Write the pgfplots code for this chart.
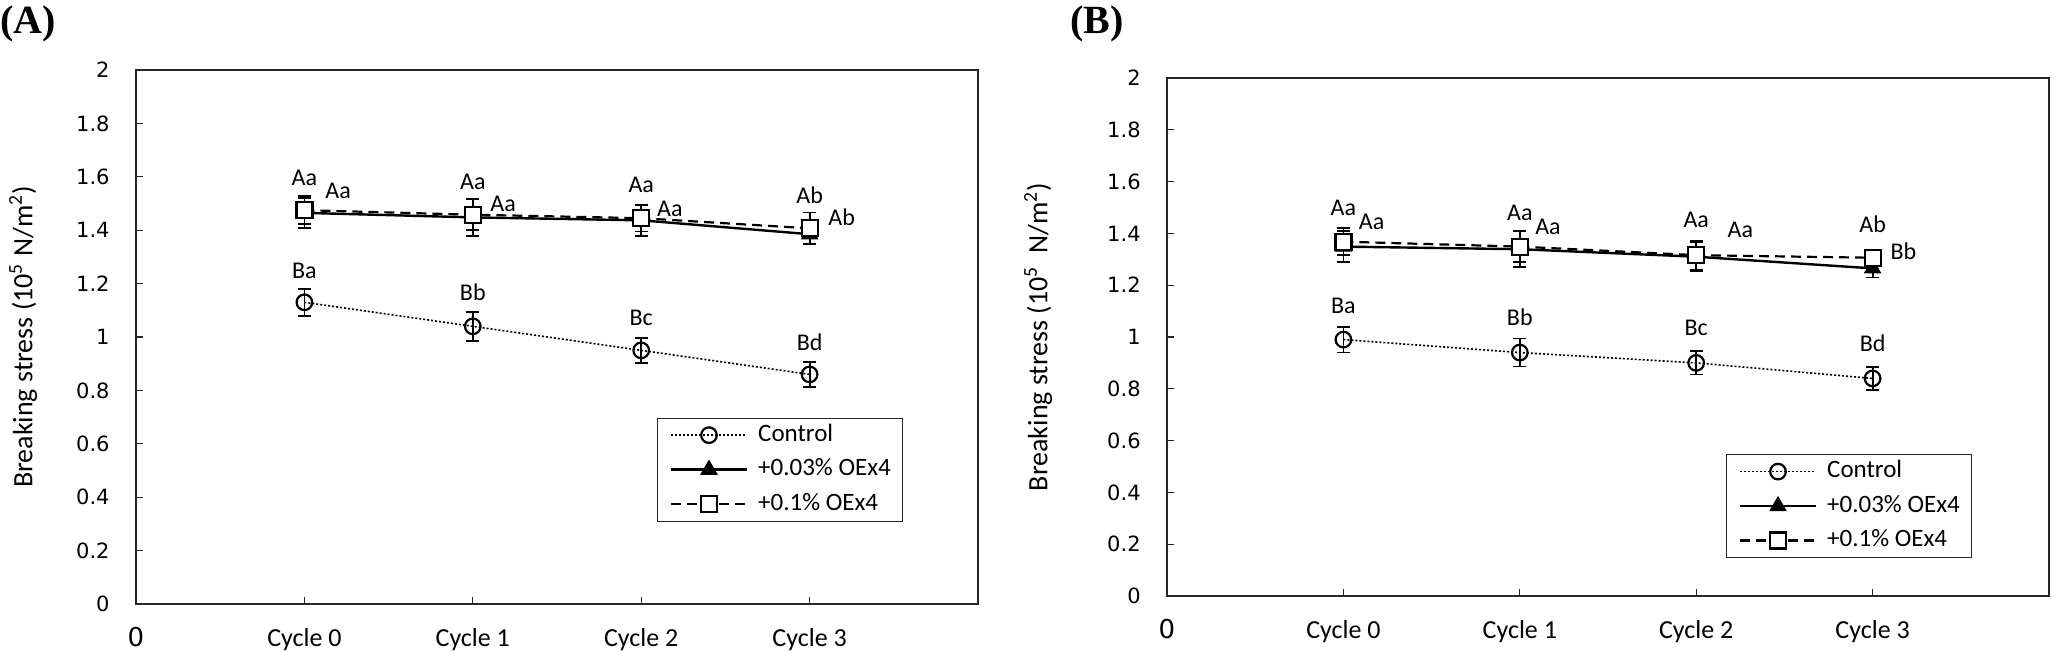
\documentclass[border=0pt]{standalone}
\usepackage{fontspec}
\setmainfont{Carlito}
\newfontfamily\dej{DejaVu Sans}
\newfontfamily\tms{Liberation Serif}
\usepackage{pgfplots}
\pgfplotsset{compat=1.18}

\tikzset{lab/.style={font=\fontsize{12}{14}\selectfont, inner sep=0pt, anchor=center, black}}

\pgfplotsset{
  breakstyle/.style={
    scale only axis,
    anchor=south west,
    xmin=0, xmax=5, ymin=0, ymax=2,
    xtick={0,1,2,3,4},
    xticklabels={{\dej 0},Cycle 0,Cycle 1,Cycle 2,Cycle 3},
    ytick={0,0.2,0.4,0.6,0.8,1,1.2,1.4,1.6,1.8,2},
    tick pos=left,
    tick align=inside,
    major tick length=3.5pt,
    axis line style={black!85, line width=0.6pt},
    every tick/.style={black!85, line width=0.6pt},
    /pgf/number format/assume math mode=true,
    yticklabel style={font=\dej\fontsize{10.5}{12}\selectfont, anchor=east, inner sep=0pt, xshift=-13pt},
    xticklabel style={font=\fontsize{13}{15}\selectfont, anchor=base, inner sep=0pt, yshift=-21pt},
    every axis y label/.style={rotate=90, anchor=center, font=\fontsize{14}{16}\selectfont},
    legend cell align=left,
    legend style={draw=black!85, line width=0.6pt, font=\fontsize{12.5}{14}\selectfont,
      inner xsep=6pt, inner ysep=2.5pt, row sep=5.25pt, anchor=south west,
      nodes={inner sep=0pt, anchor=west, text height=9pt, text depth=3pt}},
    legend image code/.code={
      \draw[mark repeat=2,mark phase=2,#1] plot coordinates {(0pt,0pt) (19pt,0pt) (38pt,0pt)};
      \path (43pt,0pt);
    },
  },
  ctrl/.style={black, dash pattern=on 1pt off 1pt, line width=0.8pt, mark=o, mark size=3.9pt,
    mark options={solid, fill=white, line width=1.1pt},
    error bars/.cd, y dir=both, y explicit,
    error bar style={solid, black, line width=0.9pt},
    error mark options={rotate=90, mark size=3.3pt, line width=0.9pt, solid, black}},
  low/.style={black, solid, line width=1.2pt, mark=triangle*, mark size=4.5pt,
    mark options={solid, fill=black, line width=0.6pt},
    error bars/.cd, y dir=both, y explicit,
    error bar style={solid, black, line width=0.9pt},
    error mark options={rotate=90, mark size=3.3pt, line width=0.9pt, solid, black}},
  high/.style={black, dash pattern=on 5pt off 3pt, line width=1.1pt, mark=square*, mark size=4pt,
    mark options={solid, fill=white, line width=1.1pt},
    error bars/.cd, y dir=both, y explicit,
    error bar style={solid, black, line width=0.9pt},
    error mark options={rotate=90, mark size=3.3pt, line width=0.9pt, solid, black}},
}

\begin{document}
\begin{tikzpicture}
\path[use as bounding box] (0pt,0pt) rectangle (1029.5pt,325pt);
\node[font=\tms\bfseries\fontsize{20}{24}\selectfont, anchor=base west, inner sep=0pt] at (0pt,308.5pt) {(A)};
\node[font=\tms\bfseries\fontsize{20}{24}\selectfont, anchor=base west, inner sep=0pt] at (535pt,308.5pt) {(B)};

% ---------------- Panel A ----------------
\begin{axis}[breakstyle, at={(68pt,23pt)}, width=421pt, height=267pt,
  ylabel={Breaking stress (10\textsuperscript{5} N/m\textsuperscript{2})},
  ylabel style={at={(axis description cs:-0.134,0.5)}},
  legend style={at={(0.619,0.154)}}]
\addplot+[ctrl] coordinates {(1,1.13) +- (0,0.05) (2,1.04) +- (0,0.055) (3,0.95) +- (0,0.046) (4,0.86) +- (0,0.046)};
\addlegendentry{Control}
\addplot+[low] coordinates {(1,1.465) +- (0,0.056) (2,1.448) +- (0,0.07) (3,1.437) +- (0,0.059) (4,1.385) +- (0,0.037)};
\addlegendentry{+0.03\% OEx4}
\addplot+[high] coordinates {(1,1.475) +- (0,0.053) (2,1.458) +- (0,0.058) (3,1.445) +- (0,0.05) (4,1.407) +- (0,0.059)};
\addlegendentry{+0.1\% OEx4}
\node[lab] at (axis cs:1,1.595) {Aa};
\node[lab] at (axis cs:1.2,1.547) {Aa};
\node[lab] at (axis cs:2,1.58) {Aa};
\node[lab] at (axis cs:2.18,1.50) {Aa};
\node[lab] at (axis cs:3,1.569) {Aa};
\node[lab] at (axis cs:3.17,1.478) {Aa};
\node[lab] at (axis cs:4,1.532) {Ab};
\node[lab] at (axis cs:4.19,1.45) {Ab};
\node[lab] at (axis cs:1,1.248) {Ba};
\node[lab] at (axis cs:2,1.166) {Bb};
\node[lab] at (axis cs:3,1.07) {Bc};
\node[lab] at (axis cs:4,0.98) {Bd};
\end{axis}

% ---------------- Panel B ----------------
\begin{axis}[breakstyle, at={(583.5pt,27pt)}, width=441pt, height=259pt,
  ylabel={Breaking stress (10\textsuperscript{5}\ \ N/m\textsuperscript{2})},
  ylabel style={at={(axis description cs:-0.146,0.5)}},
  legend style={at={(0.634,0.073)}}]
\addplot+[ctrl] coordinates {(1,0.99) +- (0,0.05) (2,0.94) +- (0,0.054) (3,0.90) +- (0,0.045) (4,0.84) +- (0,0.044)};
\addlegendentry{Control}
\addplot+[low] coordinates {(1,1.349) +- (0,0.059) (2,1.339) +- (0,0.07) (3,1.31) +- (0,0.055) (4,1.265) +- (0,0.035)};
\addlegendentry{+0.03\% OEx4}
\addplot+[high] coordinates {(1,1.368) +- (0,0.052) (2,1.349) +- (0,0.058) (3,1.316) +- (0,0.055) (4,1.306) +- (0,0.032)};
\addlegendentry{+0.1\% OEx4}
\node[lab] at (axis cs:1,1.50) {Aa};
\node[lab] at (axis cs:1.16,1.445) {Aa};
\node[lab] at (axis cs:2,1.478) {Aa};
\node[lab] at (axis cs:2.16,1.426) {Aa};
\node[lab] at (axis cs:3,1.452) {Aa};
\node[lab] at (axis cs:3.25,1.413) {Aa};
\node[lab] at (axis cs:4,1.436) {Ab};
\node[lab] at (axis cs:4.175,1.333) {Bb};
\node[lab] at (axis cs:1,1.12) {Ba};
\node[lab] at (axis cs:2,1.076) {Bb};
\node[lab] at (axis cs:3,1.034) {Bc};
\node[lab] at (axis cs:4,0.976) {Bd};
\end{axis}
\end{tikzpicture}
\end{document}
